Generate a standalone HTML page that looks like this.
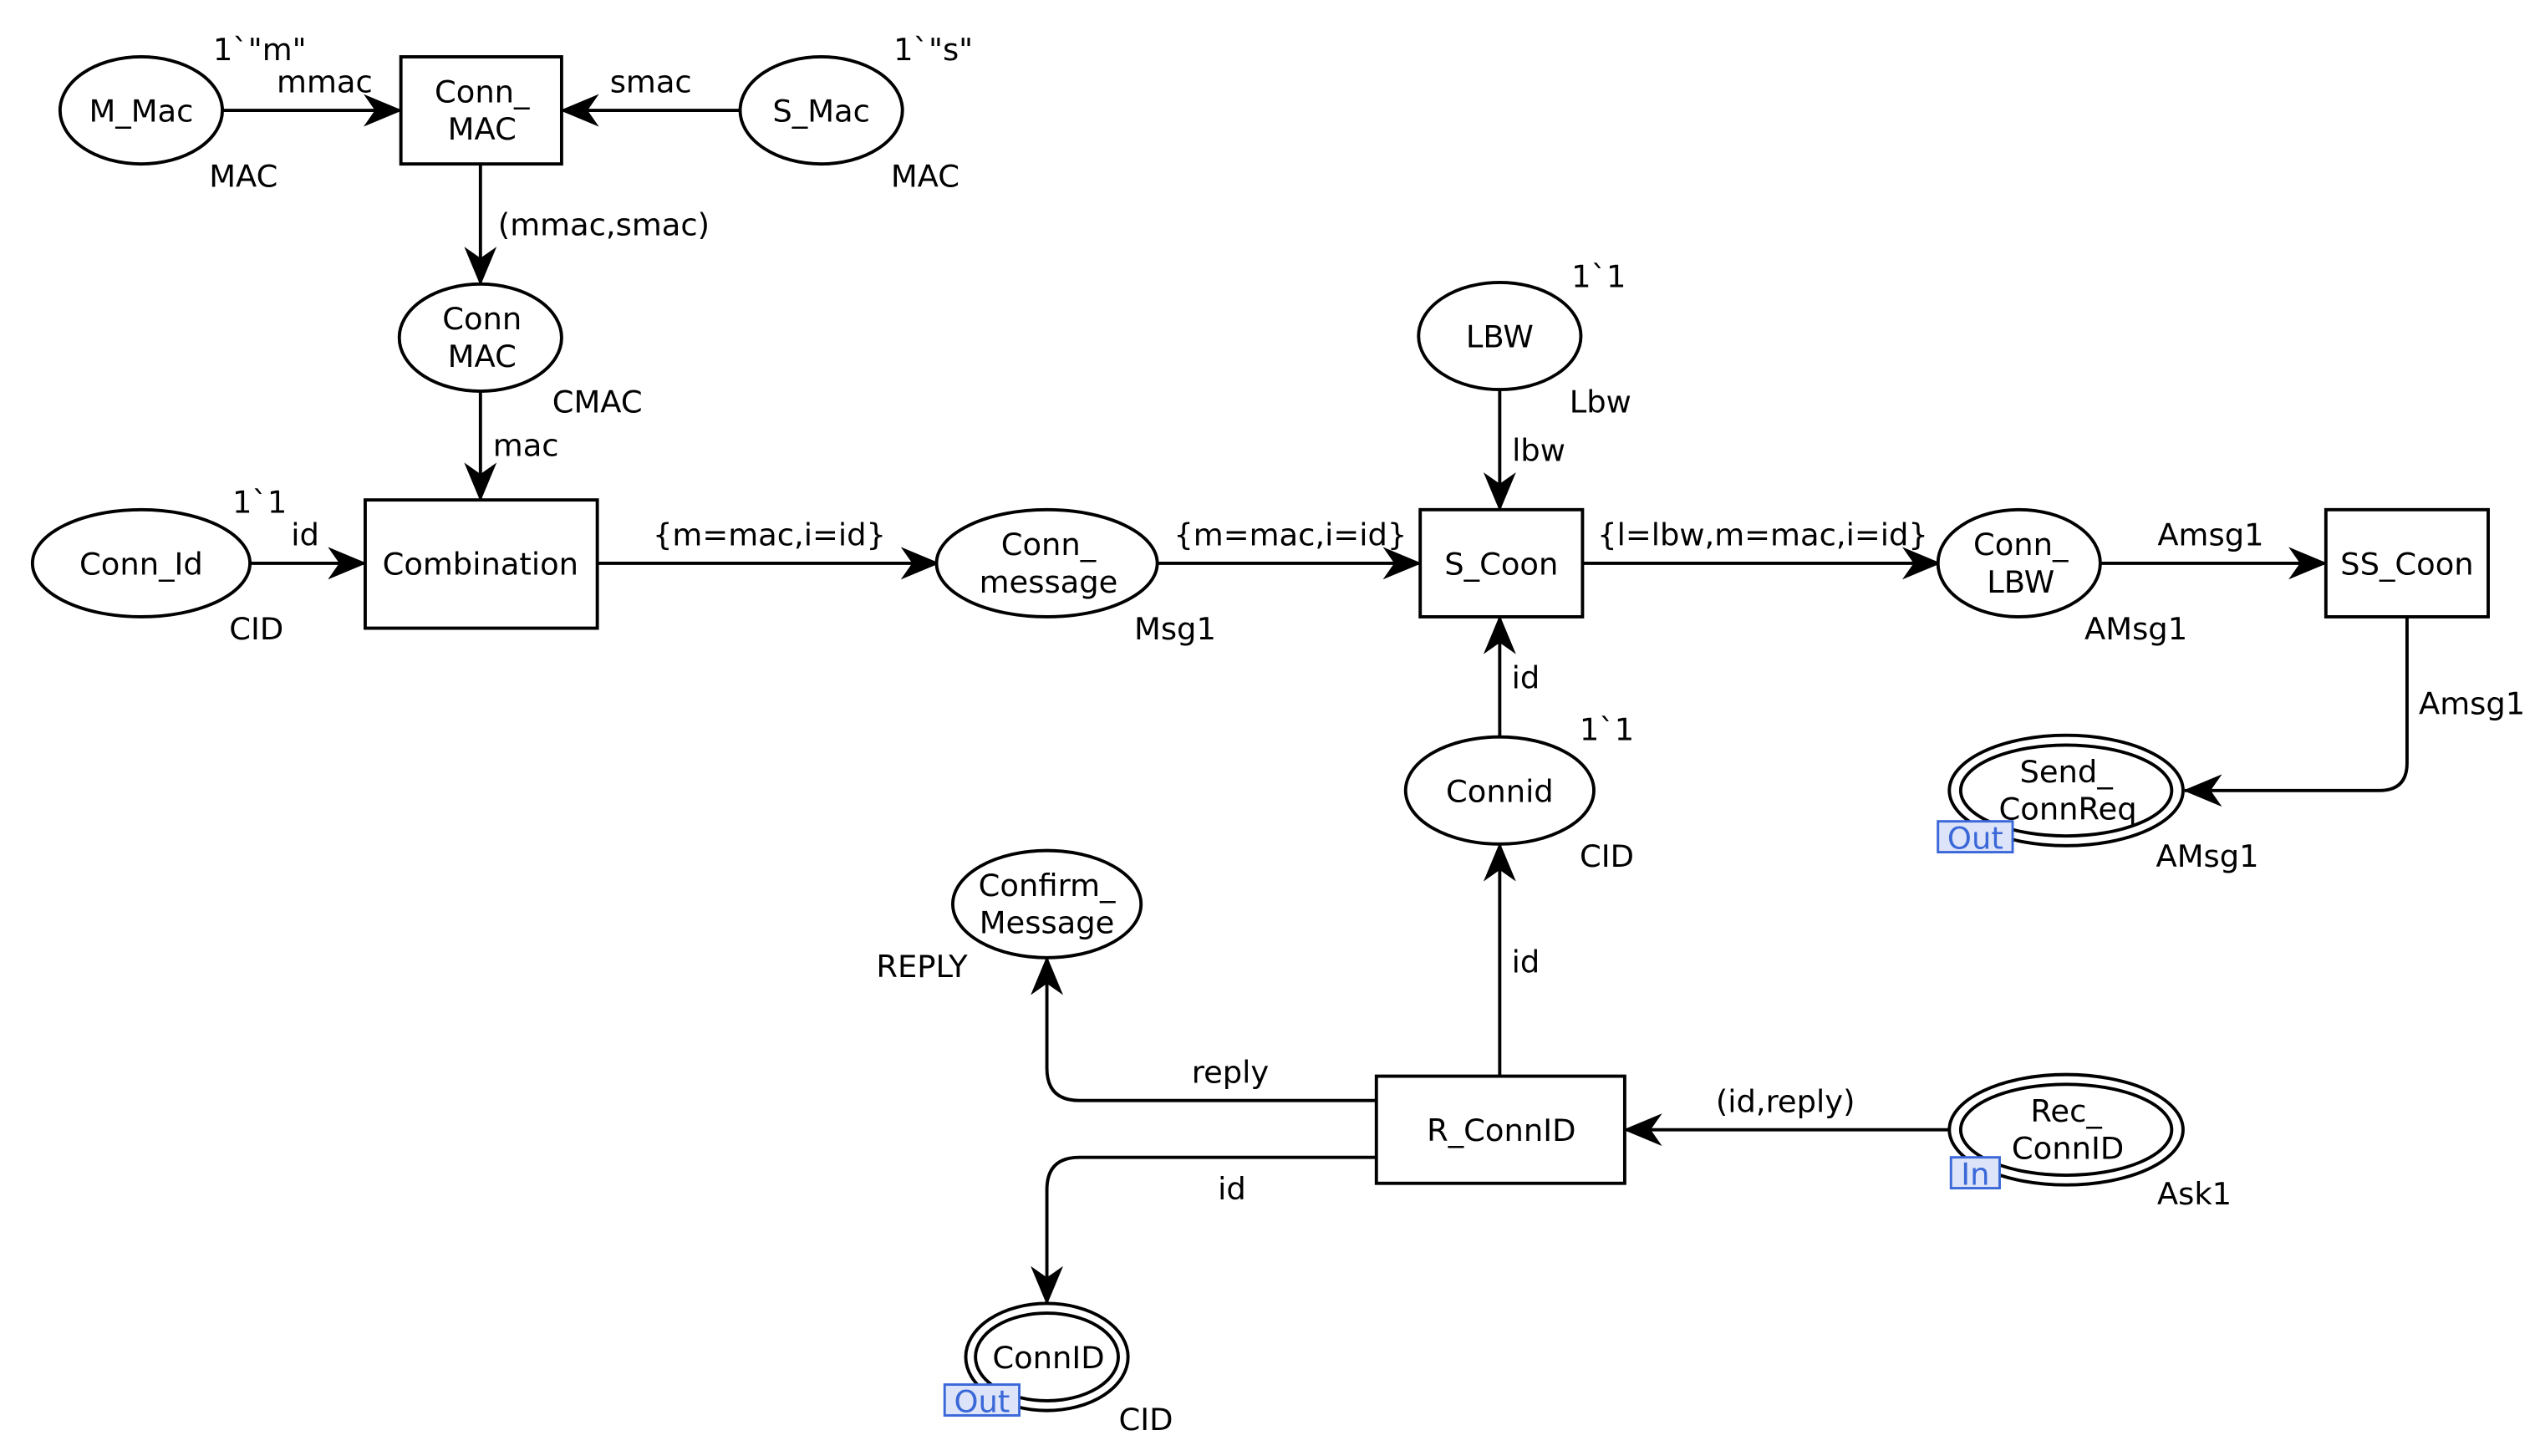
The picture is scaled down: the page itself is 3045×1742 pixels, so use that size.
<!DOCTYPE html>
<html><head><meta charset="utf-8"><style>
html,body{margin:0;padding:0;background:#fff;}
svg{display:block;}
text{font-family:"DejaVu Sans","Liberation Sans",sans-serif;font-size:19px;fill:#000;}
.c{text-anchor:middle;}
.s{fill:none;stroke:#000;stroke-width:2;}
.n{fill:#fff;stroke:#000;stroke-width:2;}
.tag{fill:#dde3f8;stroke:#3a68d8;stroke-width:1.5;}
.tt{fill:#3a68d8;text-anchor:middle;}
</style></head><body>
<svg width="3045" height="1742" viewBox="0 0 1568 897" preserveAspectRatio="none" xmlns="http://www.w3.org/2000/svg">
<defs>
<marker id="a" viewBox="0 0 24 20" refX="23" refY="10" markerWidth="24" markerHeight="20" markerUnits="userSpaceOnUse" orient="auto">
<path d="M0,0 L24,10 L0,20 L7,10 Z" fill="#000"/>
</marker>
</defs>
<!-- arcs -->
<line class="s" x1="137" y1="68" x2="247" y2="68" marker-end="url(#a)"/>
<line class="s" x1="456" y1="68" x2="346" y2="68" marker-end="url(#a)"/>
<line class="s" x1="296" y1="101" x2="296" y2="175" marker-end="url(#a)"/>
<line class="s" x1="296" y1="241" x2="296" y2="308" marker-end="url(#a)"/>
<line class="s" x1="154" y1="347" x2="225" y2="347" marker-end="url(#a)"/>
<line class="s" x1="368" y1="347" x2="578" y2="347" marker-end="url(#a)"/>
<line class="s" x1="713" y1="347" x2="875" y2="347" marker-end="url(#a)"/>
<line class="s" x1="924" y1="240" x2="924" y2="314" marker-end="url(#a)"/>
<line class="s" x1="975" y1="347" x2="1195" y2="347" marker-end="url(#a)"/>
<line class="s" x1="1294" y1="347" x2="1433" y2="347" marker-end="url(#a)"/>
<path class="s" d="M1483,380 L1483,470 Q1483,487 1466,487 L1346,487" marker-end="url(#a)"/>
<line class="s" x1="924" y1="454" x2="924" y2="380" marker-end="url(#a)"/>
<line class="s" x1="924" y1="663" x2="924" y2="520" marker-end="url(#a)"/>
<line class="s" x1="1202" y1="696" x2="1001" y2="696" marker-end="url(#a)"/>
<path class="s" d="M848,678 L665,678 Q645,678 645,658 L645,590" marker-end="url(#a)"/>
<path class="s" d="M848,713 L665,713 Q645,713 645,733 L645,803" marker-end="url(#a)"/>
<!-- nodes -->
<ellipse class="n" cx="87" cy="68" rx="50" ry="33"/>
<rect class="n" x="247" y="35" width="99" height="66"/>
<ellipse class="n" cx="506" cy="68" rx="50" ry="33"/>
<ellipse class="n" cx="296" cy="208" rx="50" ry="33"/>
<rect class="n" x="225" y="308" width="143" height="79"/>
<ellipse class="n" cx="87" cy="347" rx="67" ry="33"/>
<ellipse class="n" cx="645" cy="347" rx="68" ry="33"/>
<rect class="n" x="875" y="314" width="100" height="66"/>
<ellipse class="n" cx="924" cy="207" rx="50" ry="33"/>
<ellipse class="n" cx="1244" cy="347" rx="50" ry="33"/>
<rect class="n" x="1433" y="314" width="100" height="66"/>
<ellipse class="n" cx="1273" cy="487" rx="72" ry="34"/>
<ellipse class="n" cx="1273" cy="487" rx="65" ry="28"/>
<ellipse class="n" cx="924" cy="487" rx="58" ry="33"/>
<rect class="n" x="848" y="663" width="153" height="66"/>
<ellipse class="n" cx="1273" cy="696" rx="72" ry="34"/>
<ellipse class="n" cx="1273" cy="696" rx="65" ry="28"/>
<ellipse class="n" cx="645" cy="557" rx="58" ry="33"/>
<ellipse class="n" cx="645" cy="836" rx="50" ry="33"/>
<ellipse class="n" cx="645" cy="836" rx="44" ry="27"/>
<!-- node text -->
<text class="c" x="87" y="75">M_Mac</text>
<text class="c" x="297" y="63">Conn_</text>
<text class="c" x="297" y="86">MAC</text>
<text class="c" x="506" y="75">S_Mac</text>
<text class="c" x="297" y="203">Conn</text>
<text class="c" x="297" y="226">MAC</text>
<text class="c" x="296" y="354">Combination</text>
<text class="c" x="87" y="354">Conn_Id</text>
<text class="c" x="646" y="342">Conn_</text>
<text class="c" x="646" y="365">message</text>
<text class="c" x="925" y="354">S_Coon</text>
<text class="c" x="924" y="214">LBW</text>
<text class="c" x="1245" y="342">Conn_</text>
<text class="c" x="1245" y="365">LBW</text>
<text class="c" x="1483" y="354">SS_Coon</text>
<text class="c" x="1273" y="482">Send_</text>
<text class="c" x="1274" y="505">ConnReq</text>
<text class="c" x="924" y="494">Connid</text>
<text class="c" x="925" y="703">R_ConnID</text>
<text class="c" x="1273" y="691">Rec_</text>
<text class="c" x="1274" y="714">ConnID</text>
<text class="c" x="645" y="552">Confirm_</text>
<text class="c" x="645" y="575">Message</text>
<text class="c" x="646" y="843">ConnID</text>
<!-- tags -->
<rect class="tag" x="1194" y="506" width="46" height="19"/><text class="tt" x="1217" y="523">Out</text>
<rect class="tag" x="1202" y="713" width="30" height="19"/><text class="tt" x="1217" y="730">In</text>
<rect class="tag" x="582" y="853" width="46" height="19"/><text class="tt" x="605" y="870">Out</text>
<!-- labels -->
<text class="c" x="160" y="37">1`"m"</text>
<text class="c" x="200" y="57">mmac</text>
<text class="c" x="150" y="115">MAC</text>
<text class="c" x="575" y="37">1`"s"</text>
<text class="c" x="401" y="57">smac</text>
<text class="c" x="570" y="115">MAC</text>
<text class="c" x="372" y="145">(mmac,smac)</text>
<text class="c" x="368" y="254">CMAC</text>
<text class="c" x="324" y="281">mac</text>
<text class="c" x="160" y="316">1`1</text>
<text class="c" x="188" y="336">id</text>
<text class="c" x="158" y="394">CID</text>
<text class="c" x="474" y="336">{m=mac,i=id}</text>
<text class="c" x="724" y="394">Msg1</text>
<text class="c" x="795" y="336">{m=mac,i=id}</text>
<text class="c" x="985" y="177">1`1</text>
<text class="c" x="986" y="254">Lbw</text>
<text class="c" x="948" y="284">lbw</text>
<text class="c" x="1086" y="336">{l=lbw,m=mac,i=id}</text>
<text class="c" x="1316" y="394">AMsg1</text>
<text class="c" x="1362" y="336">Amsg1</text>
<text class="c" x="1523" y="440">Amsg1</text>
<text class="c" x="1360" y="534">AMsg1</text>
<text class="c" x="990" y="456">1`1</text>
<text class="c" x="990" y="534">CID</text>
<text class="c" x="940" y="424">id</text>
<text class="c" x="940" y="599">id</text>
<text class="c" x="1100" y="685">(id,reply)</text>
<text class="c" x="1352" y="742">Ask1</text>
<text class="c" x="568" y="602">REPLY</text>
<text class="c" x="758" y="667">reply</text>
<text class="c" x="759" y="739">id</text>
<text class="c" x="706" y="881">CID</text>
</svg>
</body></html>
